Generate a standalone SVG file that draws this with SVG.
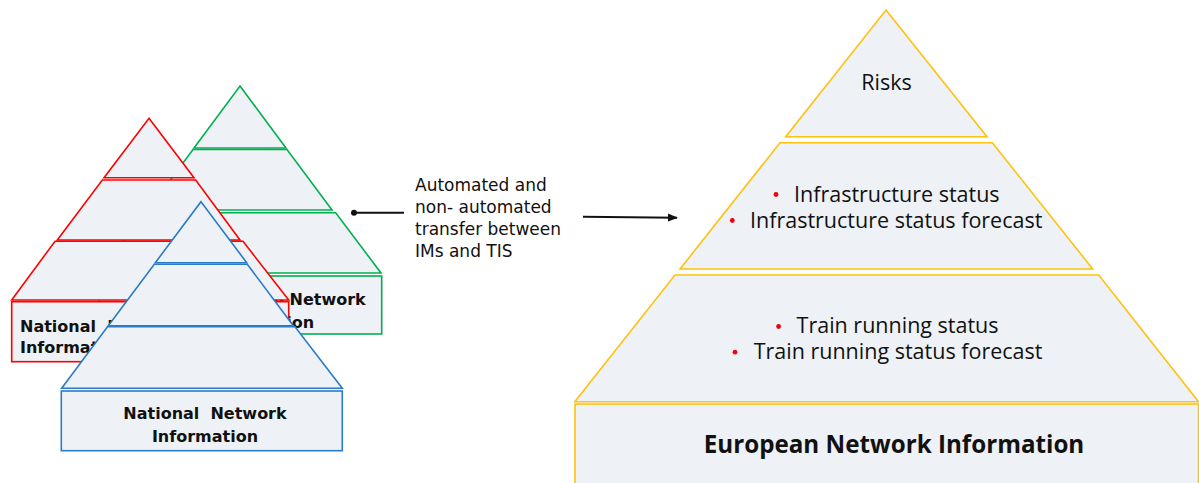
<svg xmlns="http://www.w3.org/2000/svg" width="1199" height="483" viewBox="0 0 1199 483">
<defs>
<style>
.sh{fill:#eef1f5;stroke-width:1.6;stroke-linejoin:miter}
.g{stroke:#00b050}
.r{stroke:#ff0000}
.b{stroke:#2a7cc7}
.y{stroke:#ffc20e}
.nl{font-family:"DejaVu Sans",Verdana,sans-serif;font-weight:bold;font-size:16px;fill:#111}
.lbl{font-family:"DejaVu Sans",Verdana,sans-serif;font-size:17px;fill:#111}
.eu{font-family:"Open Sans",Lato,sans-serif;font-size:21.5px;fill:#111}
.eub{font-family:"Open Sans",Lato,sans-serif;font-size:24.2px;font-weight:bold;fill:#111}
.bul{fill:#e30613}
</style>
<marker id="ah" viewBox="0 0 10 10" refX="9" refY="5" markerWidth="5" markerHeight="5" orient="auto" markerUnits="strokeWidth">
<path d="M0,1 L10,5 L0,9 z" fill="#111"/>
</marker>
</defs>

<g id="green-pyramid">
<polygon class="sh g" points="240,86 286,148 194,148"/>
<polygon class="sh g" points="193,149.5 287,149.5 332,210 148,210"/>
<polygon class="sh g" points="144.3,212.7 335.7,212.7 381,273 99,273"/>
<rect class="sh g" x="99" y="276" width="282.7" height="58"/>
<text class="nl"><tspan x="208" y="304.5">National Network</tspan><tspan x="208" y="327.5">Information</tspan></text>
</g>

<g id="red-pyramid">
<polygon class="sh r" points="149,118.3 194,177.7 104,177.7"/>
<polygon class="sh r" points="102.3,180 195.7,180 240,240 57.3,240"/>
<polygon class="sh r" points="55,241.3 243,241.3 288.7,300 11.7,300"/>
<rect class="sh r" x="11.7" y="301.7" width="277" height="60"/>
<text class="nl" xml:space="preserve"><tspan x="20" y="331.7">National  Network</tspan><tspan x="20" y="353">Information</tspan></text>
</g>

<g id="blue-pyramid">
<polygon class="sh b" points="201,201.7 246.7,262.7 155.3,262.7"/>
<polygon class="sh b" points="154.3,264.3 247.3,264.3 293.3,325.7 108.3,325.7"/>
<polygon class="sh b" points="107.5,326.7 295,326.7 342.3,388.3 61.7,388.3"/>
<rect class="sh b" x="61.3" y="391" width="281" height="59.7"/>
<text class="nl" text-anchor="middle" xml:space="preserve"><tspan x="205" y="419.3">National  Network</tspan><tspan x="205" y="441.7">Information</tspan></text>
</g>

<g id="european-pyramid">
<polygon class="sh y" points="886,10 987,136.7 785.7,136.7"/>
<polygon class="sh y" points="780,142.7 992.3,142.7 1092.7,269 680,269"/>
<polygon class="sh y" points="675,275 1098.7,275 1198.5,401.7 574.8,401.7"/>
<rect class="sh y" x="575" y="404" width="623.5" height="90"/>
<text class="eu" x="886.5" y="90" text-anchor="middle">Risks</text>
<circle class="bul" cx="776" cy="194.5" r="2.4"/>
<circle class="bul" cx="732.3" cy="220.5" r="2.4"/>
<text class="eu"><tspan x="794" y="201.7">Infrastructure status</tspan><tspan x="750" y="227.7">Infrastructure status forecast</tspan></text>
<circle class="bul" cx="778.6" cy="326.5" r="2.4"/>
<circle class="bul" cx="735" cy="352.2" r="2.4"/>
<text class="eu"><tspan x="796.6" y="333.3">Train running status</tspan><tspan x="753.7" y="359">Train running status forecast</tspan></text>
<text class="eub" x="894" y="453.3" text-anchor="middle">European Network Information</text>
</g>

<g id="connectors">
<line x1="354" y1="212.7" x2="404" y2="212.7" stroke="#111" stroke-width="2"/>
<circle cx="354" cy="212.7" r="3" fill="#111"/>
<line x1="583" y1="216.7" x2="677" y2="217.7" stroke="#111" stroke-width="2" marker-end="url(#ah)"/>
<text class="lbl"><tspan x="415" y="190.7">Automated and</tspan><tspan x="415" y="213">non- automated</tspan><tspan x="415" y="235">transfer between</tspan><tspan x="415" y="257.3">IMs and TIS</tspan></text>
</g>
</svg>
